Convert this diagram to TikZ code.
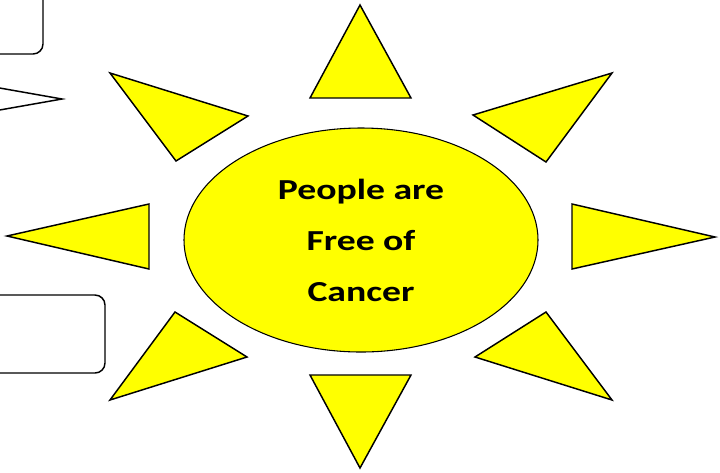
\documentclass[tikz,border=0pt]{standalone}
\usepackage{fontspec}
\setmainfont{Carlito}
\newfontfamily\widefont[FakeStretch=1.3]{Carlito}
\usetikzlibrary{shapes.geometric}
\definecolor{sunyellow}{HTML}{FFFF00}
\tikzset{
  ray/.style={draw=black, line width=1.1pt, fill=sunyellow, line join=miter},
  roundbox/.style={draw=black, line width=1.1pt, rounded corners=7.5pt, fill=white},
  core/.style={ellipse, draw=black, line width=0.8pt, fill=sunyellow,
    minimum width=265.5pt, minimum height=168pt, inner sep=0pt,
    align=center, font=\widefont\bfseries\fontsize{21.75}{38.25}\selectfont}
}
\begin{document}
\begin{tikzpicture}[x=0.75pt, y=-0.75pt]
\useasboundingbox (0,0) rectangle (720,472);
\clip (0,0) rectangle (720,472);

% Boxes at the left edge (cut off)
\draw[roundbox] (-40,-40) rectangle (43,54);
\draw[roundbox] (-40,295) rectangle (105,373);

% Open pointer at the left edge
\draw[line width=1.1pt, fill=white, line join=miter] (-40,81) -- (62,99) -- (-40,117);

% Rays of the sun
\draw[ray] (360,5) -- (411,98) -- (310,98) -- cycle;
\draw[ray] (360,468) -- (411,375) -- (310,375) -- cycle;
\draw[ray] (7,236) -- (149,204) -- (149,269) -- cycle;
\draw[ray] (715,237) -- (572,204) -- (572,269) -- cycle;
\draw[ray] (110,73) -- (248,116) -- (176,161) -- cycle;
\draw[ray] (612,73) -- (473,115) -- (546,162) -- cycle;
\draw[ray] (175,312) -- (247,357) -- (110,400) -- cycle;
\draw[ray] (546,312) -- (475,357) -- (612,400) -- cycle;

% Centre
\node[core] (sun) at (361,240) {People are\\Free of\\Cancer};
\end{tikzpicture}
\end{document}
